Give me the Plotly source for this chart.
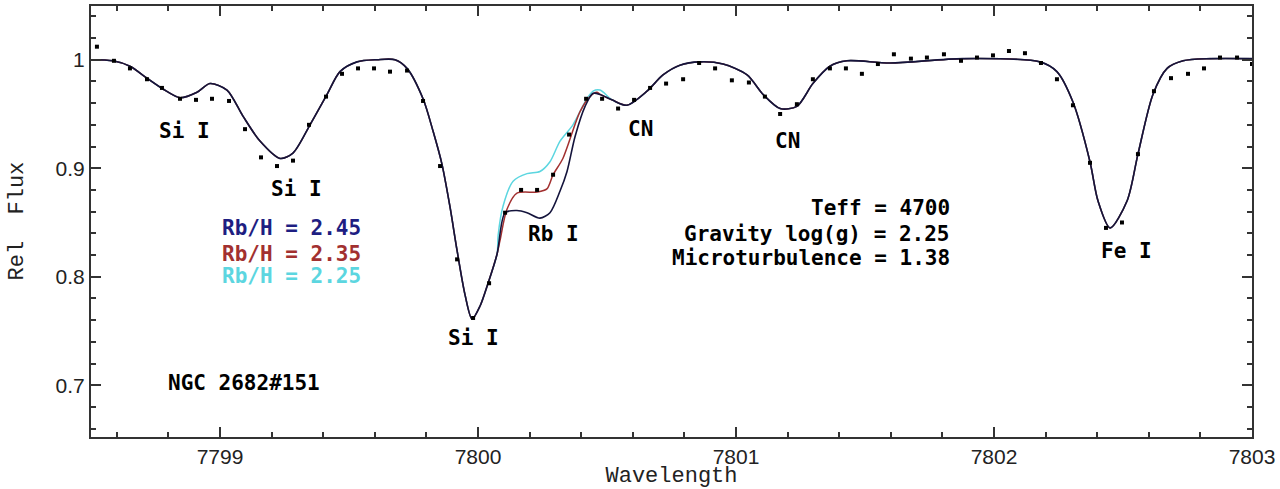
import plotly.graph_objects as go

# ---------------- data ----------------
# model spectrum, Rb/H = 2.45 (full range)
model_wl = [7798.50, 7798.585, 7798.651, 7798.717, 7798.779, 7798.845, 7798.911, 7798.961,
            7799.027, 7799.089, 7799.155, 7799.233, 7799.283, 7799.349, 7799.415, 7799.465,
            7799.531, 7799.609, 7799.678, 7799.725, 7799.787, 7799.826, 7799.860, 7799.891,
            7799.919, 7799.950, 7799.977, 7800.008, 7800.039, 7800.074, 7800.105, 7800.151,
            7800.190, 7800.240, 7800.279, 7800.318, 7800.345, 7800.376, 7800.415, 7800.446,
            7800.473, 7800.519, 7800.577, 7800.655, 7800.717, 7800.783, 7800.860, 7800.950,
            7801.043, 7801.105, 7801.171, 7801.236, 7801.298, 7801.364, 7801.430, 7801.597,
            7801.880, 7802.178, 7802.244, 7802.306, 7802.372, 7802.403, 7802.450, 7802.516,
            7802.558, 7802.616, 7802.671, 7802.733, 7802.837, 7803.00]
model_245 = [1.000, 0.999, 0.994, 0.983, 0.973, 0.965, 0.970, 0.978,
             0.972, 0.948, 0.925, 0.909, 0.914, 0.940, 0.968, 0.989,
             0.998, 1.000, 1.000, 0.992, 0.964, 0.934, 0.904, 0.865,
             0.824, 0.783, 0.761, 0.773, 0.794, 0.821, 0.859, 0.861,
             0.859, 0.854, 0.859, 0.879, 0.897, 0.929, 0.957, 0.969,
             0.968, 0.963, 0.958, 0.971, 0.986, 0.995, 0.998, 0.996,
             0.986, 0.968, 0.955, 0.957, 0.978, 0.994, 0.999, 0.997,
             1.001, 0.998, 0.989, 0.961, 0.906, 0.870, 0.845, 0.870,
             0.913, 0.968, 0.992, 0.999, 1.001, 1.001]

# Rb/H = 2.35 model, Rb I region only
rb235_wl = [7800.085, 7800.112, 7800.151, 7800.229, 7800.267, 7800.291, 7800.329,
            7800.395, 7800.434, 7800.461]
rb235 = [0.833, 0.862, 0.877, 0.878, 0.881, 0.894, 0.909, 0.952, 0.966, 0.970]

# Rb/H = 2.25 model, Rb I region only
rb225_wl = [7800.078, 7800.097, 7800.136, 7800.190, 7800.240, 7800.279, 7800.318,
            7800.368, 7800.422, 7800.446, 7800.473]
rb225 = [0.838, 0.865, 0.888, 0.895, 0.897, 0.906, 0.925, 0.940, 0.964, 0.971, 0.972]

# observed spectrum
obs_wl = [7798.523, 7798.589, 7798.651, 7798.717, 7798.775, 7798.845, 7798.907, 7798.969,
          7799.035, 7799.097, 7799.159, 7799.221, 7799.283, 7799.345, 7799.411, 7799.473,
          7799.535, 7799.597, 7799.659, 7799.725, 7799.787, 7799.853, 7799.919, 7799.981,
          7800.043, 7800.105, 7800.167, 7800.229, 7800.291, 7800.353, 7800.419, 7800.481,
          7800.543, 7800.605, 7800.667, 7800.729, 7800.795, 7800.857, 7800.919, 7800.984,
          7801.050, 7801.112, 7801.171, 7801.236, 7801.298, 7801.364, 7801.426, 7801.488,
          7801.550, 7801.612, 7801.678, 7801.740, 7801.806, 7801.872, 7801.934, 7801.996,
          7802.058, 7802.120, 7802.182, 7802.244, 7802.306, 7802.372, 7802.434, 7802.496,
          7802.558, 7802.620, 7802.686, 7802.752, 7802.814, 7802.876, 7802.942, 7803.000]
obs_flux = [1.012, 0.999, 0.992, 0.982, 0.974, 0.964, 0.963, 0.964,
            0.962, 0.936, 0.910, 0.902, 0.907, 0.940, 0.966, 0.987,
            0.992, 0.992, 0.989, 0.990, 0.962, 0.902, 0.816, 0.762,
            0.794, 0.859, 0.880, 0.880, 0.894, 0.931, 0.964, 0.964,
            0.955, 0.963, 0.974, 0.978, 0.982, 0.997, 0.992, 0.981,
            0.979, 0.966, 0.950, 0.959, 0.982, 0.992, 0.992, 0.987,
            0.996, 1.005, 1.001, 1.002, 1.005, 0.999, 1.002, 1.004,
            1.008, 1.006, 0.997, 0.982, 0.958, 0.905, 0.845, 0.850,
            0.913, 0.971, 0.983, 0.987, 0.992, 1.002, 1.002, 0.996]

line_labels = ["Si I", "Si I", "Si I", "Rb I", "CN", "CN", "Fe I"]
line_label_wl = [7798.864, 7799.298, 7799.981, 7800.291, 7800.628, 7801.198, 7802.512]
line_label_y = [0.934, 0.881, 0.744, 0.839, 0.936, 0.925, 0.824]

abund_labels = ["Rb/H = 2.45", "Rb/H = 2.35", "Rb/H = 2.25"]
abund_colors = ["#1e1e82", "#a23030", "#5cd6e0"]
abund_y = [0.845, 0.821, 0.801]

param_labels = ["Teff = 4700", "Gravity log(g) = 2.25", "Microturbulence = 1.38"]
param_y = [0.863, 0.839, 0.817]

x_ticks = [7799, 7800, 7801, 7802, 7803]
y_ticks = [0.7, 0.8, 0.9, 1.0]
y_tick_text = ["0.7", "0.8", "0.9", "1"]


def splice(base_wl, base_f, seg_wl, seg_f):
    lo, hi = seg_wl[0], seg_wl[-1]
    pts = [(w, f) for w, f in zip(base_wl, base_f) if w < lo or w > hi]
    pts += list(zip(seg_wl, seg_f))
    pts.sort()
    return [p[0] for p in pts], [p[1] for p in pts]


wl235, f235 = splice(model_wl, model_245, rb235_wl, rb235)
wl225, f225 = splice(model_wl, model_245, rb225_wl, rb225)

fig = go.Figure()
fig.add_trace(go.Scatter(x=wl225, y=f225, mode="lines", line=dict(color=abund_colors[2], width=1.5, shape="spline", smoothing=0.8), hoverinfo="skip"))
fig.add_trace(go.Scatter(x=wl235, y=f235, mode="lines", line=dict(color=abund_colors[1], width=1.5, shape="spline", smoothing=0.8), hoverinfo="skip"))
fig.add_trace(go.Scatter(x=model_wl, y=model_245, mode="lines", line=dict(color="#14143c", width=1.6, shape="spline", smoothing=0.8)))
fig.add_trace(go.Scatter(x=obs_wl, y=obs_flux, mode="markers", marker=dict(symbol="square", size=4, color="black")))

mono = "DejaVu Sans Mono"
FS = 21
for t, w, y in zip(line_labels, line_label_wl, line_label_y):
    fig.add_annotation(x=w, y=y, text=t, showarrow=False, xanchor="center", yanchor="middle",
                       font=dict(family=mono, size=FS, color="black", weight="bold"))
for t, c, y in zip(abund_labels, abund_colors, abund_y):
    fig.add_annotation(x=7799.0, y=y, text=t, showarrow=False, xanchor="left", yanchor="middle",
                       font=dict(family=mono, size=FS, color=c, weight="bold"))
for t, y in zip(param_labels, param_y):
    fig.add_annotation(x=7801.837, y=y, text=t, showarrow=False, xanchor="right", yanchor="middle",
                       font=dict(family=mono, size=FS, color="black", weight="bold"))
fig.add_annotation(x=7798.79, y=0.702, text="NGC 2682#151", showarrow=False, xanchor="left", yanchor="middle",
                   font=dict(family=mono, size=FS, color="black", weight="bold"))

# y-axis title placed closer to the edge than plotly's automatic placement allows
fig.add_annotation(xref="paper", yref="paper", x=-74 / 1161, y=0.50, text="Rel  Flux",
                   textangle=-90, showarrow=False, xanchor="center", yanchor="middle",
                   font=dict(family="Liberation Mono", size=22, color="#222222"))

axis_common = dict(showline=True, linecolor="#333333", linewidth=2, mirror="allticks",
                   ticks="inside", tickcolor="#333333", tickwidth=1.5, ticklen=10,
                   showgrid=False, zeroline=False,
                   tickfont=dict(family="Liberation Sans", size=21, color="#222222"))

fig.update_layout(
    width=1280, height=489,
    margin=dict(l=91, r=28, t=4, b=52),
    paper_bgcolor="white", plot_bgcolor="white",
    showlegend=False,
    xaxis=dict(range=[7798.5, 7803], tickvals=x_ticks, ticktext=[str(v) for v in x_ticks],
               minor=dict(ticks="inside", dtick=0.2, ticklen=5, tickcolor="#333333", tickwidth=1.5),
               title=dict(text="Wavelength", font=dict(family="Liberation Mono", size=22, color="#222222"), standoff=0),
               **axis_common),
    yaxis=dict(range=[0.6523, 1.0495], tickvals=y_ticks, ticktext=y_tick_text,
               minor=dict(ticks="inside", dtick=0.02, ticklen=5, tickcolor="#333333", tickwidth=1.5),
               **axis_common),
)

fig.write_html("out.html")
